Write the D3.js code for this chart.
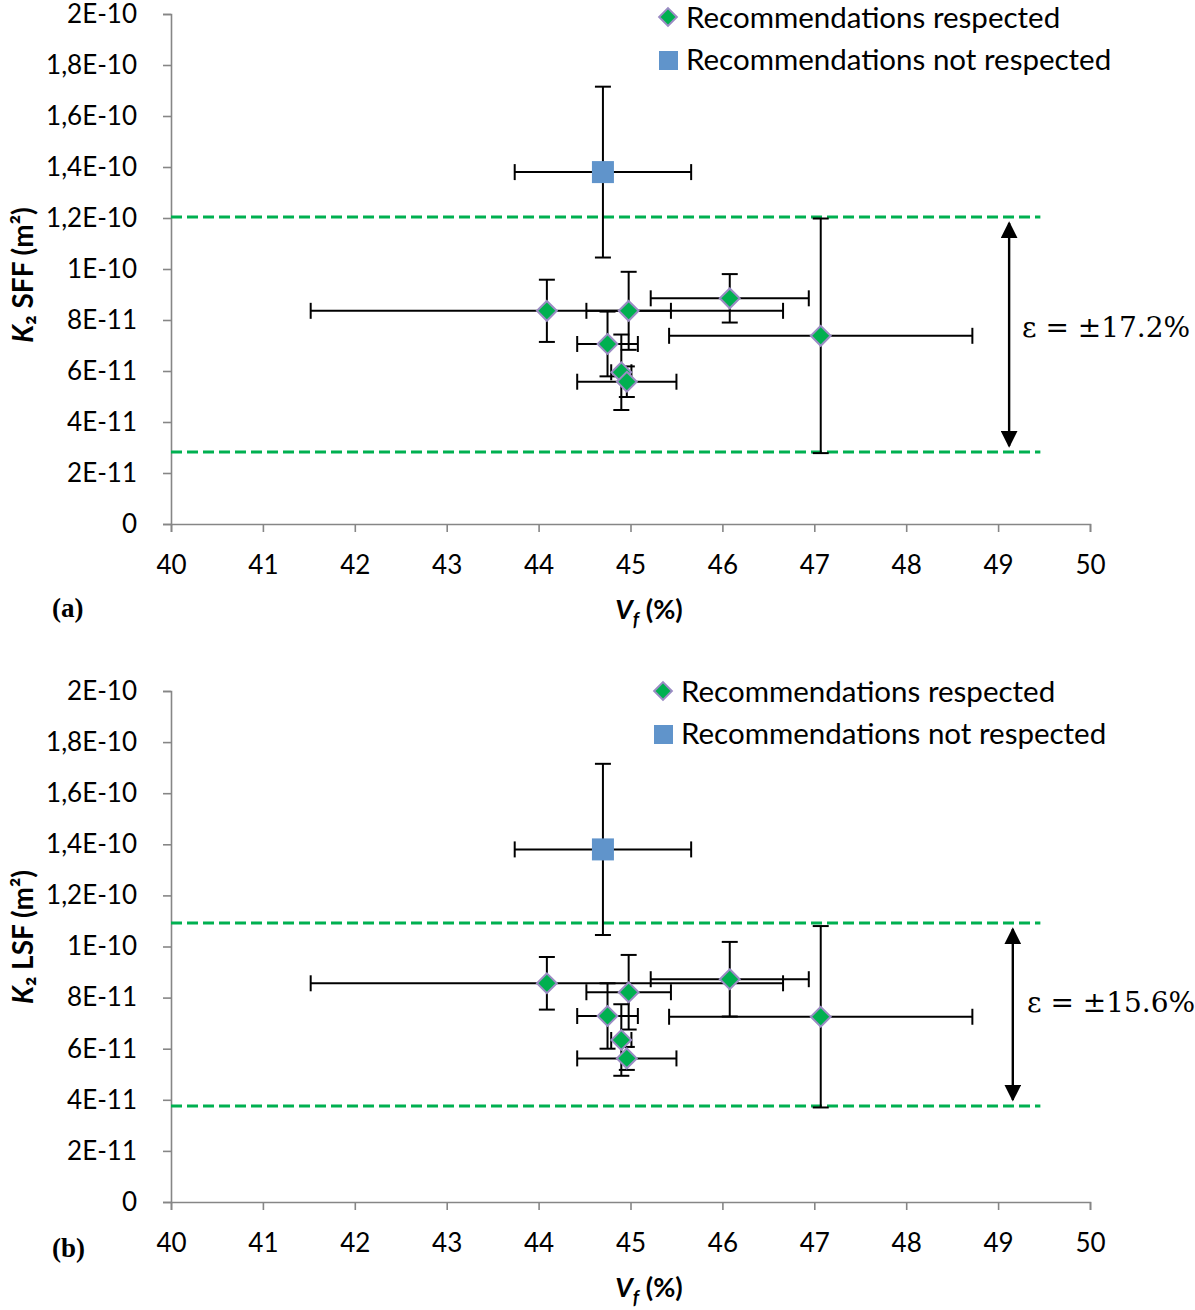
<!DOCTYPE html>
<html>
<head>
<meta charset="utf-8">
<script src="https://cdn.jsdelivr.net/npm/d3@7"></script>
<style>
  html, body { margin: 0; padding: 0; background: #fff; }
  svg { display: block; }
  .tick text { font-family: Lato, "Open Sans", sans-serif; font-size: 26px; fill: #000; }
</style>
</head>
<body>
<svg id="chart" width="1195" height="1310"></svg>
<script>
// Fibre volume fraction Vf (%) and its uncertainty, shared by both panels
const vfRespected    = [44.09, 44.98, 44.75, 44.90, 44.96, 46.08, 47.07];
const vfErrRespected = [2.57, 0.46, 0.33, 0.11, 0.54, 0.86, 1.65];
const vfNotRespected    = [44.70];
const vfErrNotRespected = [0.96];

// K2 permeability, SFF method (m²)
const k2SFF       = [8.36e-11, 8.36e-11, 7.06e-11, 5.95e-11, 5.58e-11, 8.85e-11, 7.38e-11];
const k2SFFErr    = [1.22e-11, 1.53e-11, 1.27e-11, 1.48e-11, 0.60e-11, 0.95e-11, 4.60e-11];
const k2SFFNot    = [1.38e-10];
const k2SFFNotErr = [0.335e-10];

// K2 permeability, LSF method (m²)
const k2LSF       = [8.56e-11, 8.21e-11, 7.28e-11, 6.34e-11, 5.62e-11, 8.72e-11, 7.25e-11];
const k2LSFErr    = [1.03e-11, 1.46e-11, 1.28e-11, 1.40e-11, 0.45e-11, 1.46e-11, 3.55e-11];
const k2LSFNot    = [1.38e-10];
const k2LSFNotErr = [0.335e-10];

// Scatter bands (upper, lower) and their labels
const bandSFF = [1.204e-10, 2.82e-11];
const bandLSF = [1.092e-10, 3.76e-11];
const epsSFF = "ε = ±17.2%";
const epsLSF = "ε = ±15.6%";

// Axis ticks
const xTicks = [40, 41, 42, 43, 44, 45, 46, 47, 48, 49, 50];
const yTicks = [0, 2e-11, 4e-11, 6e-11, 8e-11, 1e-10, 1.2e-10, 1.4e-10, 1.6e-10, 1.8e-10, 2e-10];
const yTickLabels = ["0", "2E-11", "4E-11", "6E-11", "8E-11", "1E-10", "1,2E-10", "1,4E-10", "1,6E-10", "1,8E-10", "2E-10"];
const legendLabels = ["Recommendations respected", "Recommendations not respected"];

const GREEN = "#00b050", DIAMOND_EDGE = "#9b8cc4", BLUE = "#6094cb", BAND = "#00b050", AXIS = "#868686";
const SANS = "Lato, 'Open Sans', sans-serif";

const svg = d3.select("#chart");
const defs = svg.append("defs");
["start", "end"].forEach(k => {
  defs.append("marker")
    .attr("id", "arrow-" + k)
    .attr("viewBox", "0 0 10 10").attr("refX", 9).attr("refY", 5)
    .attr("markerWidth", 7).attr("markerHeight", 7)
    .attr("markerUnits", "strokeWidth")
    .attr("orient", k === "start" ? "auto-start-reverse" : "auto")
    .append("path").attr("d", "M0,0 L10,5 L0,10 Z").attr("fill", "#000");
});

function drawPanel(cfg) {
  const x = d3.scaleLinear().domain([40, 50]).range([171, 1090]);
  const y = d3.scaleLinear().domain([0, 2e-10]).range([cfg.bottom, cfg.top]);
  const g = svg.append("g");

  // axes
  const xa = g.append("g").attr("transform", `translate(0,${cfg.bottom})`)
    .call(d3.axisBottom(x).tickValues(xTicks).tickSize(8).tickPadding(24).tickFormat(d3.format("d")));
  const ya = g.append("g").attr("transform", "translate(171,0)")
    .call(d3.axisLeft(y).tickValues(yTicks).tickSize(8).tickPadding(26)
      .tickFormat((d, i) => yTickLabels[i]));
  [xa, ya].forEach(a => {
    a.select(".domain").attr("stroke", AXIS).attr("stroke-width", 1.6);
    a.selectAll(".tick line").attr("stroke", AXIS).attr("stroke-width", 1.6);
  });

  // scatter bands
  g.selectAll(".band").data(cfg.band).join("line")
    .attr("x1", x(40)).attr("x2", x(49.46))
    .attr("y1", d => y(d)).attr("y2", d => y(d))
    .attr("stroke", BAND).attr("stroke-width", 3).attr("stroke-dasharray", "11,5");

  // double arrow between bands
  g.append("line")
    .attr("x1", x(cfg.arrowX)).attr("x2", x(cfg.arrowX))
    .attr("y1", y(cfg.band[0]) + 6).attr("y2", y(cfg.band[1]) - 6)
    .attr("stroke", "#000").attr("stroke-width", 2.4)
    .attr("marker-start", "url(#arrow-start)").attr("marker-end", "url(#arrow-end)");
  g.append("text")
    .attr("x", cfg.epsX).attr("y", cfg.epsY)
    .attr("font-family", "'DejaVu Serif', 'Liberation Serif', serif").attr("font-size", 28)
    .text(cfg.eps);

  // error bars
  const pts = cfg.vf.map((v, i) => ({ vf: v, dx: cfg.vfErr[i], k: cfg.k[i], dk: cfg.kErr[i], kind: "r" }))
    .concat(cfg.vfNot.map((v, i) => ({ vf: v, dx: cfg.vfErrNot[i], k: cfg.kNot[i], dk: cfg.kNotErr[i], kind: "n" })));
  const cap = 8;
  const eb = g.append("g").attr("stroke", "#000").attr("stroke-width", 2);
  pts.forEach(p => {
    const cx = x(p.vf), cy = y(p.k);
    const x0 = x(p.vf - p.dx), x1 = x(p.vf + p.dx), y0 = y(p.k - p.dk), y1 = y(p.k + p.dk);
    eb.append("line").attr("x1", x0).attr("x2", x1).attr("y1", cy).attr("y2", cy);
    eb.append("line").attr("x1", x0).attr("x2", x0).attr("y1", cy - cap).attr("y2", cy + cap);
    eb.append("line").attr("x1", x1).attr("x2", x1).attr("y1", cy - cap).attr("y2", cy + cap);
    eb.append("line").attr("x1", cx).attr("x2", cx).attr("y1", y0).attr("y2", y1);
    eb.append("line").attr("x1", cx - cap).attr("x2", cx + cap).attr("y1", y0).attr("y2", y0);
    eb.append("line").attr("x1", cx - cap).attr("x2", cx + cap).attr("y1", y1).attr("y2", y1);
  });

  // markers
  const diamond = d3.symbol().type(d3.symbolDiamond2).size(250);
  g.selectAll(".pt-r").data(pts.filter(p => p.kind === "r")).join("path")
    .attr("d", diamond)
    .attr("transform", p => `translate(${x(p.vf)},${y(p.k)})`)
    .attr("fill", GREEN).attr("stroke", DIAMOND_EDGE).attr("stroke-width", 2);
  g.selectAll(".pt-n").data(pts.filter(p => p.kind === "n")).join("rect")
    .attr("x", p => x(p.vf) - 11).attr("y", p => y(p.k) - 11)
    .attr("width", 22).attr("height", 22).attr("fill", BLUE);

  // legend
  const lg = g.append("g").attr("transform", `translate(${cfg.legendX},${cfg.legendY})`);
  lg.append("path").attr("d", d3.symbol().type(d3.symbolDiamond2).size(200))
    .attr("fill", GREEN).attr("stroke", DIAMOND_EDGE).attr("stroke-width", 2);
  lg.append("rect").attr("x", -9).attr("y", 34).attr("width", 19).attr("height", 19).attr("fill", BLUE);
  lg.selectAll("text").data(legendLabels).join("text")
    .attr("x", 18).attr("y", (d, i) => 11 + i * 42)
    .attr("font-family", SANS).attr("font-size", 29.5)
    .text(d => d);

  // axis titles
  const yt = g.append("text")
    .attr("transform", `translate(33,${cfg.yTitleY}) rotate(-90)`)
    .attr("text-anchor", "middle")
    .attr("font-family", SANS).attr("font-size", 28).attr("font-weight", "bold");
  yt.append("tspan").attr("font-style", "italic").text("K");
  yt.append("tspan").text("₂ " + cfg.method + " (m²)");

  const xt = g.append("text")
    .attr("x", 649).attr("y", cfg.bottom + 95)
    .attr("text-anchor", "middle")
    .attr("font-family", SANS).attr("font-size", 27).attr("font-weight", "bold");
  xt.append("tspan").attr("font-style", "italic").text("V");
  xt.append("tspan").attr("font-style", "italic").attr("font-size", 19).attr("dy", 7).text("f");
  xt.append("tspan").attr("dy", -7).text(" (%)");

  g.append("text")
    .attr("x", 52).attr("y", cfg.panelLabelY)
    .attr("font-family", "'Liberation Serif', 'DejaVu Serif', serif").attr("font-size", 27).attr("font-weight", "bold")
    .text(cfg.panelLabel);
}

drawPanel({
  top: 14, bottom: 524, vf: vfRespected, vfErr: vfErrRespected, k: k2SFF, kErr: k2SFFErr,
  vfNot: vfNotRespected, vfErrNot: vfErrNotRespected, kNot: k2SFFNot, kNotErr: k2SFFNotErr,
  band: bandSFF, arrowX: 49.12, eps: epsSFF, epsX: 1022, epsY: 337, method: "SFF", yTitleY: 275,
  legendX: 668, legendY: 17, panelLabel: "(a)", panelLabelY: 617
});
drawPanel({
  top: 691, bottom: 1202, vf: vfRespected, vfErr: vfErrRespected, k: k2LSF, kErr: k2LSFErr,
  vfNot: vfNotRespected, vfErrNot: vfErrNotRespected, kNot: k2LSFNot, kNotErr: k2LSFNotErr,
  band: bandLSF, arrowX: 49.16, eps: epsLSF, epsX: 1027, epsY: 1012, method: "LSF", yTitleY: 937,
  legendX: 663, legendY: 691, panelLabel: "(b)", panelLabelY: 1257
});
</script>
</body>
</html>
